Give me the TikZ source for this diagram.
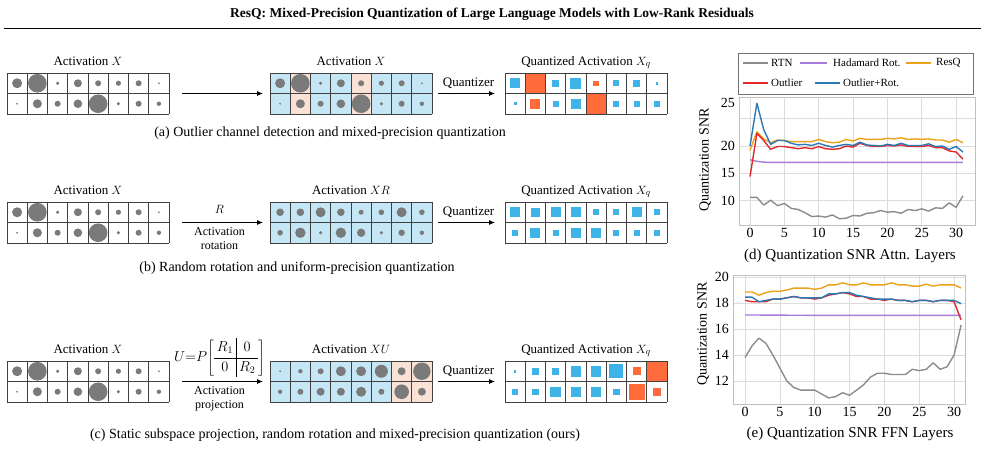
\documentclass[tikz,border=0pt]{standalone}
\usepackage{fontspec}
\setmainfont{Liberation Serif}
\usetikzlibrary{positioning,arrows.meta}

\definecolor{dotgray}{HTML}{7A7A7A}
\definecolor{cellblue}{HTML}{C5E7F5}
\definecolor{cellpeach}{HTML}{F9E2D5}
\definecolor{qblue}{HTML}{3DB3E8}
\definecolor{qorange}{HTML}{FF6B3B}
\definecolor{rtncol}{HTML}{8C8C8C}
\definecolor{hadcol}{HTML}{A77BDB}
\definecolor{resqcol}{HTML}{EBA21A}
\definecolor{outcol}{HTML}{E0282E}
\definecolor{rotcol}{HTML}{2A7AB8}
\definecolor{gridgray}{HTML}{DCDCDC}

\tikzset{
  gridbox/.style={minimum width=162pt, minimum height=41pt, anchor=north west, inner sep=0pt, outer sep=0pt},
  cellline/.style={draw=black!75, line width=0.8pt},
  lbl/.style={font=\fontsize{13}{15}\selectfont, inner sep=1pt},
  smalltxt/.style={font=\fontsize{12}{14}\selectfont, inner sep=1pt, align=center},
  captxt/.style={font=\fontsize{14}{16}\selectfont, inner sep=1pt},
  titl/.style={font=\fontsize{13.5}{16}\selectfont\bfseries, inner sep=1pt},
  arr/.style={-{Latex[length=6pt,width=5pt]}, line width=0.8pt},
  pgrid/.style={draw=gridgray, line width=0.7pt},
  pframe/.style={draw=black!25, line width=0.8pt},
  ticktxt/.style={font=\fontsize{14}{16}\selectfont, inner sep=1pt},
  legtxt/.style={font=\fontsize{11}{13}\selectfont, inner sep=1pt, anchor=west},
  rtnline/.style={draw=rtncol, line width=1.4pt, line join=round},
  hadline/.style={draw=hadcol, line width=1.4pt, line join=round},
  resqline/.style={draw=resqcol, line width=1.4pt, line join=round},
  outlierline/.style={draw=outcol, line width=1.4pt, line join=round},
  rotline/.style={draw=rotcol, line width=1.4pt, line join=round}
}

\begin{document}
\begin{tikzpicture}[x=1pt, y=-1pt]
    \useasboundingbox (0,0) rectangle (985,450);

    % Title
    \node[titl] (ttl) at (492,14) {ResQ: Mixed-Precision Quantization of Large Language Models with Low-Rank Residuals};
    \draw[line width=1.8pt] (4,28.5) -- (981,28.5);

    % Cell colours
    \foreach \c [count=\i from 0] in {cellblue,cellpeach,cellblue,cellblue,cellpeach,cellblue,cellblue,cellblue}
        \fill[\c] ({270+20.25*\i},73) rectangle ++(20.25,41);
    \fill[cellblue] (270,202) rectangle ++(162,41);
    \foreach \c [count=\i from 0] in {cellblue,cellblue,cellblue,cellblue,cellblue,cellblue,cellpeach,cellpeach}
        \fill[\c] ({270+20.25*\i},361) rectangle ++(20.25,41);

    % Activations X
    \foreach \gx/\gy in {7/73,270/73,7/202,7/361} {
        \foreach \r [count=\i from 0] in {5,9.3,1.8,4,3,2.6,3,1}
            \fill[dotgray] ({\gx+10.125+20.25*\i},{\gy+10.25}) circle (\r);
        \foreach \r [count=\i from 0] in {1,4.5,3,4.3,9.3,1.8,3,2.2}
            \fill[dotgray] ({\gx+10.125+20.25*\i},{\gy+30.75}) circle (\r);
    }
    % Activation XR
    \foreach \r [count=\i from 0] in {3.8,3.8,5,3.8,2.5,2.8,5,2.8}
        \fill[dotgray] ({280.125+20.25*\i},212.25) circle (\r);
    \foreach \r [count=\i from 0] in {2.8,5.2,1.8,5.2,4.2,1.8,3.2,2.2}
        \fill[dotgray] ({280.125+20.25*\i},232.75) circle (\r);
    % Activation XU
    \foreach \r [count=\i from 0] in {1,2.2,3,5,5,6.5,4,8.7}
        \fill[dotgray] ({280.125+20.25*\i},371.25) circle (\r);
    \foreach \r [count=\i from 0] in {2.2,3,4,4,5,3,7.3,4}
        \fill[dotgray] ({280.125+20.25*\i},391.75) circle (\r);

    % Quantized activations
    \foreach \s/\c [count=\i from 0] in {10/qblue,20.3/qorange,7/qblue,11/qblue,5.5/qorange,6/qblue,6.5/qblue,2.5/qblue}
        \fill[\c] ({515.125+20.25*\i-\s/2},{83.25-\s/2}) rectangle ++(\s,\s);
    \foreach \s/\c [count=\i from 0] in {3/qblue,10/qorange,6/qblue,10/qblue,20.3/qorange,6/qblue,6/qblue,5.5/qblue}
        \fill[\c] ({515.125+20.25*\i-\s/2},{103.75-\s/2}) rectangle ++(\s,\s);
    \foreach \s [count=\i from 0] in {10,8.5,10,10,6,6,10,6}
        \fill[qblue] ({515.125+20.25*\i-\s/2},{212.25-\s/2}) rectangle ++(\s,\s);
    \foreach \s [count=\i from 0] in {6,10,6,10,10,6,6,6}
        \fill[qblue] ({515.125+20.25*\i-\s/2},{232.75-\s/2}) rectangle ++(\s,\s);
    \foreach \s/\c [count=\i from 0] in {2.5/qblue,7/qblue,6.5/qblue,10.5/qblue,10.5/qblue,14/qblue,8/qorange,20.3/qorange}
        \fill[\c] ({515.125+20.25*\i-\s/2},{371.25-\s/2}) rectangle ++(\s,\s);
    \foreach \s/\c [count=\i from 0] in {6/qblue,6.5/qblue,10.5/qblue,10.5/qblue,10/qblue,6.5/qblue,16/qorange,7.5/qorange}
        \fill[\c] ({515.125+20.25*\i-\s/2},{391.75-\s/2}) rectangle ++(\s,\s);

    % Grid lines
    \foreach \gx/\gy in {7/73,270/73,505/73,7/202,270/202,505/202,7/361,270/361,505/361} {
        \foreach \i in {0,...,8}
            \draw[cellline] ({\gx+20.25*\i},\gy) -- ++(0,41);
        \foreach \j in {0,1,2}
            \draw[cellline] (\gx,{\gy+20.5*\j}) -- ++(162,0);
    }

    % Grids
    \node[gridbox] (a1) at (7,73) {};
    \node[gridbox] (a2) at (270,73) {};
    \node[gridbox] (a3) at (505,73) {};
    \node[gridbox] (b1) at (7,202) {};
    \node[gridbox] (b2) at (270,202) {};
    \node[gridbox] (b3) at (505,202) {};
    \node[gridbox] (c1) at (7,361) {};
    \node[gridbox] (c2) at (270,361) {};
    \node[gridbox] (c3) at (505,361) {};

    % Labels
    \node[lbl, above=8pt of a1, anchor=base] (la1) {Activation $X$};
    \node[lbl, above=8pt of a2, anchor=base] (la2) {Activation $X$};
    \node[lbl, above=8pt of a3, anchor=base] (la3) {Quantized Activation $X_q$};
    \node[lbl, above=8pt of b1, anchor=base] (lb1) {Activation $X$};
    \node[lbl, above=8pt of b2, anchor=base] (lb2) {Activation $XR$};
    \node[lbl, above=8pt of b3, anchor=base] (lb3) {Quantized Activation $X_q$};
    \node[lbl, above=8pt of c1, anchor=base] (lc1) {Activation $X$};
    \node[lbl, above=8pt of c2, anchor=base] (lc2) {Activation $XU$};
    \node[lbl, above=8pt of c3, anchor=base] (lc3) {Quantized Activation $X_q$};

    % Arrows
    \draw[arr, shorten <=13pt, shorten >=7pt] (a1) -- (a2);
    \draw[arr, shorten <=6pt, shorten >=10pt] (a2) -- node[lbl, above=3pt] (qa) {Quantizer} (a3);
    \draw[arr, shorten <=13pt, shorten >=7pt] (b1) -- node[lbl, above=8pt] (rb) {$R$}
        node[smalltxt, below=4pt] (ab) {Activation\\rotation} (b2);
    \draw[arr, shorten <=6pt, shorten >=10pt] (b2) -- node[lbl, above=3pt] (qb) {Quantizer} (b3);
    \draw[arr, shorten <=13pt, shorten >=7pt] (c1) -- node[font=\fontsize{14}{16}\selectfont, inner sep=0pt, above=4pt] (uc)
        {\renewcommand\arraystretch{1.2}\setlength\arraycolsep{3pt}$U{=}P\!\left[\begin{array}{c|c} R_1 & 0\\ \hline 0 & R_2\end{array}\right]$}
        node[smalltxt, below=4pt] (ac) {Activation\\projection} (c2);
    \draw[arr, shorten <=6pt, shorten >=10pt] (c2) -- node[lbl, above=3pt] (qc) {Quantizer} (c3);

    % Captions
    \node[captxt] (capa) at (330,133) {(a) Outlier channel detection and mixed-precision quantization};
    \node[captxt] (capb) at (297,268) {(b) Random rotation and uniform-precision quantization};
    \node[captxt] (capc) at (335,435) {(c) Static subspace projection, random rotation and mixed-precision quantization (ours)};

    % Plot (d)
    \begin{scope}[shift={(750,255.4)}, x=6.87pt, y=5.47pt]
        \foreach \v in {10,15,20,25}
            \draw[pgrid] (-1.6,\v) -- (32.75,\v);
        \foreach \t in {0,5,...,30}
            \draw[pgrid] (\t,5.56) -- (\t,28.8);
        \draw[pframe] (-1.6,5.56) rectangle (32.75,28.8);
        \draw[rtnline] plot coordinates {(0,10.6)(1,10.6)(2,9.2)(3,10.1)(4,9.1)(5,9.5)(6,8.6)(7,8.4)(8,7.8)(9,7.1)(10,7.2)(11,7.0)(12,7.4)(13,6.7)(14,6.8)(15,7.3)(16,7.2)(17,7.7)(18,7.8)(19,8.2)(20,7.9)(21,8.0)(22,7.7)(23,8.4)(24,8.2)(25,8.5)(26,8.1)(27,8.7)(28,8.6)(29,9.6)(30,8.8)(31,10.9)};
        \draw[hadline] plot coordinates {(0,17.5)(1,17.2)(2,17.05)(3,17.0)(31,17.0)};
        \draw[resqline] plot coordinates {(0,19.2)(1,22.6)(2,21.3)(3,20.6)(4,21.1)(5,21.0)(6,20.8)(7,20.8)(8,20.8)(9,20.8)(10,21.2)(11,20.8)(12,20.6)(13,20.7)(14,21.2)(15,20.9)(16,21.4)(17,21.2)(18,21.2)(19,21.2)(20,21.4)(21,21.3)(22,21.5)(23,21.2)(24,21.3)(25,21.2)(26,21.3)(27,21.1)(28,21.1)(29,20.7)(30,21.2)(31,20.6)};
        \draw[outlierline] plot coordinates {(0,14.4)(1,22.3)(2,21.0)(3,19.4)(4,19.9)(5,19.9)(6,19.7)(7,19.5)(8,19.7)(9,19.5)(10,19.9)(11,19.5)(12,19.4)(13,19.5)(14,20.0)(15,19.8)(16,20.5)(17,20.1)(18,19.9)(19,19.9)(20,20.1)(21,20.0)(22,20.2)(23,19.9)(24,19.9)(25,19.9)(26,20.1)(27,19.7)(28,19.7)(29,19.1)(30,18.9)(31,17.6)};
        \draw[rotline] plot coordinates {(0,20.0)(1,27.8)(2,23.0)(3,20.3)(4,21.0)(5,21.0)(6,20.5)(7,20.2)(8,20.3)(9,20.1)(10,20.5)(11,20.1)(12,19.8)(13,20.1)(14,20.3)(15,20.1)(16,20.7)(17,20.2)(18,20.1)(19,20.0)(20,20.3)(21,20.1)(22,20.5)(23,20.1)(24,20.1)(25,20.1)(26,20.4)(27,19.9)(28,20.0)(29,19.4)(30,19.9)(31,18.9)};
        \foreach \v in {10,15,20}
            \node[ticktxt, left=3pt] (yd\v) at (-1.6,\v) {\v};
        \node[ticktxt, left=3pt] (yd25) at (-1.6,27.95) {25};
        \foreach \t in {0,5,...,30}
            \node[ticktxt, below=2pt] (xd\t) at (\t,5.56) {\t};
    \end{scope}
    \node[ticktxt, rotate=90] (ylabd) at (705,160) {Quantization SNR};
    \node[captxt, font=\fontsize{15}{17}\selectfont] (capd) at (850,256) {(d) Quantization SNR Attn. Layers};

    % Legend
    \draw[draw=black!55, line width=0.8pt] (738,53) rectangle (973,94);
    \draw[rtnline, line width=2pt] (743,63) -- (768,63);
    \node[legtxt] (lrtn) at (770,62.5) {RTN};
    \draw[hadline, line width=2pt] (800,63) -- (827,63);
    \node[legtxt] (lhad) at (832,62.5) {Hadamard Rot.};
    \draw[resqline, line width=2pt] (906,63) -- (931,63);
    \node[legtxt] (lresq) at (935,62.5) {ResQ};
    \draw[outlierline, line width=2pt] (743,83) -- (768,83);
    \node[legtxt] (lout) at (770,82.5) {Outlier};
    \draw[rotline, line width=2pt] (815,83) -- (840,83);
    \node[legtxt] (lrot) at (842,82.5) {Outlier+Rot.};

    % Plot (e)
    \begin{scope}[shift={(745,537)}, x=6.97pt, y=13pt]
        \foreach \v in {12,14,16,18,20}
            \draw[pgrid] (-1.72,\v) -- (31.56,\v);
        \foreach \t in {0,5,...,30}
            \draw[pgrid] (\t,10.23) -- (\t,20.15);
        \draw[pframe] (-1.72,10.23) rectangle (31.56,20.15);
        \draw[rtnline] plot coordinates {(0,13.8)(1,14.7)(2,15.3)(3,14.9)(4,14.0)(5,13.0)(6,12.0)(7,11.5)(8,11.3)(9,11.3)(10,11.3)(11,11.0)(12,10.7)(13,10.8)(14,11.1)(15,10.9)(16,11.3)(17,11.7)(18,12.3)(19,12.6)(20,12.6)(21,12.5)(22,12.5)(23,12.5)(24,12.9)(25,12.8)(26,12.9)(27,13.4)(28,12.9)(29,13.1)(30,14.0)(31,16.3)};
        \draw[hadline] plot coordinates {(0,17.08)(10,17.05)(20,17.05)(31,17.05)};
        \draw[resqline] plot coordinates {(0,18.85)(1,18.85)(2,18.6)(3,18.8)(4,18.9)(5,18.9)(6,19.0)(7,19.15)(8,19.15)(9,19.15)(10,19.05)(11,19.15)(12,19.4)(13,19.4)(14,19.55)(15,19.4)(16,19.4)(17,19.55)(18,19.4)(19,19.4)(20,19.4)(21,19.55)(22,19.4)(23,19.4)(24,19.3)(25,19.3)(26,19.45)(27,19.3)(28,19.4)(29,19.4)(30,19.4)(31,19.15)};
        \draw[outlierline] plot coordinates {(0,18.2)(1,18.1)(2,18.1)(3,18.1)(4,18.3)(5,18.3)(6,18.4)(7,18.5)(8,18.4)(9,18.4)(10,18.3)(11,18.4)(12,18.6)(13,18.7)(14,18.8)(15,18.7)(16,18.5)(17,18.5)(18,18.3)(19,18.3)(20,18.2)(21,18.3)(22,18.2)(23,18.2)(24,18.1)(25,18.2)(26,18.2)(27,18.1)(28,18.2)(29,18.2)(30,18.1)(31,16.7)};
        \draw[rotline] plot coordinates {(0,18.45)(1,18.45)(2,18.1)(3,18.2)(4,18.3)(5,18.3)(6,18.4)(7,18.5)(8,18.4)(9,18.4)(10,18.4)(11,18.4)(12,18.7)(13,18.7)(14,18.8)(15,18.8)(16,18.6)(17,18.5)(18,18.4)(19,18.3)(20,18.3)(21,18.3)(22,18.2)(23,18.2)(24,18.1)(25,18.2)(26,18.2)(27,18.1)(28,18.2)(29,18.2)(30,18.2)(31,17.95)};
        \foreach \v in {12,14,16,18,20}
            \node[ticktxt, left=3pt] (ye\v) at (-1.72,\v) {\v};
        \foreach \t in {0,5,...,30}
            \node[ticktxt, below=2pt] (xe\t) at (\t,10.23) {\t};
    \end{scope}
    \node[ticktxt, rotate=90] (ylabe) at (703,334) {Quantization SNR};
    \node[captxt, font=\fontsize{15}{17}\selectfont] (cape) at (850,434) {(e) Quantization SNR FFN Layers};
\end{tikzpicture}
\end{document}
